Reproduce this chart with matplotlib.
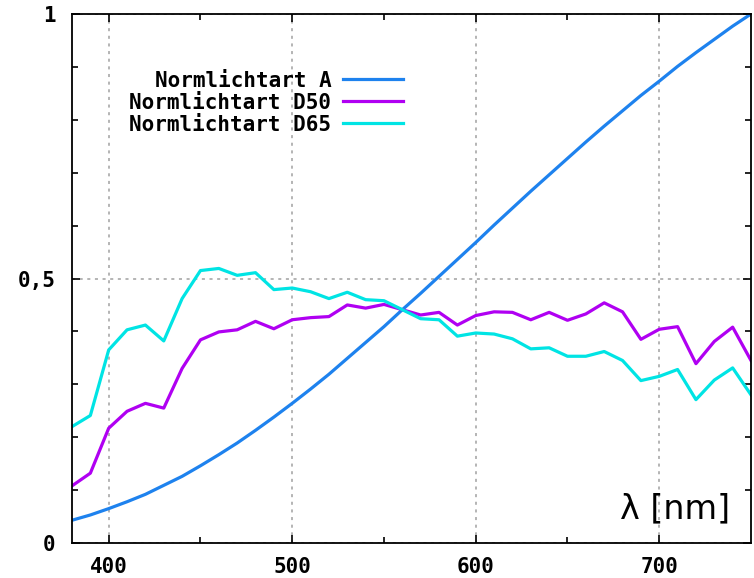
import numpy as np
import matplotlib
matplotlib.use("Agg")
import matplotlib.pyplot as plt
from matplotlib.ticker import MultipleLocator, FixedLocator

# wavelengths in nm, 10 nm steps
wavelength = np.arange(380, 751, 10)

# relative spectral power, scaled so that illuminant A is 1 at 750 nm
norm_a = [0.043, 0.053, 0.065, 0.078, 0.092, 0.109, 0.126, 0.146, 0.167, 0.189,
          0.213, 0.238, 0.264, 0.291, 0.319, 0.349, 0.379, 0.409, 0.441, 0.472,
          0.504, 0.536, 0.568, 0.601, 0.633, 0.665, 0.696, 0.727, 0.758, 0.788,
          0.817, 0.846, 0.873, 0.901, 0.927, 0.952, 0.977, 1.000]
norm_d50 = [0.108, 0.132, 0.217, 0.249, 0.264, 0.255, 0.330, 0.384, 0.399, 0.403,
            0.419, 0.405, 0.422, 0.426, 0.428, 0.450, 0.444, 0.451, 0.441, 0.431,
            0.436, 0.412, 0.430, 0.437, 0.436, 0.422, 0.436, 0.421, 0.433, 0.454,
            0.437, 0.385, 0.404, 0.409, 0.339, 0.381, 0.408, 0.345]
norm_d65 = [0.220, 0.241, 0.365, 0.403, 0.412, 0.382, 0.462, 0.515, 0.519, 0.506,
            0.511, 0.479, 0.482, 0.475, 0.462, 0.474, 0.460, 0.458, 0.441, 0.424,
            0.422, 0.391, 0.397, 0.395, 0.386, 0.367, 0.369, 0.353, 0.353, 0.362,
            0.345, 0.307, 0.315, 0.328, 0.271, 0.308, 0.331, 0.280]

labels = ["Normlichtart A", "Normlichtart D50", "Normlichtart D65"]
colors = ["#1e82ee", "#b000f2", "#00e4e4"]

fig = plt.figure(figsize=(7.54, 5.78), dpi=100)
ax = fig.add_axes([72 / 754, 35 / 578, 679 / 754, 529 / 578])

for y, lab, c in zip([norm_a, norm_d50, norm_d65], labels, colors):
    ax.plot(wavelength, y, color=c, lw=2.3, label=lab, solid_joinstyle="round")

ax.set_xlim(380, 750)
ax.set_ylim(0, 1)

mono = {"family": "DejaVu Sans Mono", "weight": "bold", "size": 15}

ax.xaxis.set_major_locator(FixedLocator([400, 500, 600, 700]))
ax.xaxis.set_minor_locator(FixedLocator([450, 550, 650]))
ax.yaxis.set_major_locator(FixedLocator([0, 0.5, 1]))
ax.yaxis.set_minor_locator(MultipleLocator(0.1))
ax.set_xticklabels(["400", "500", "600", "700"], fontdict=mono)
ax.set_yticklabels(["0", "0,5", "1"], fontdict=mono)

ax.tick_params(which="both", direction="in", top=True, right=True, width=1.2, colors="black")
ax.tick_params(which="major", length=6)
ax.tick_params(which="minor", length=4)
ax.tick_params(axis="x", pad=10)
ax.tick_params(axis="y", pad=12)

ax.grid(True, which="major", color="#a0a0a0", linestyle=(0, (2, 3)), linewidth=1.1)
for s in ax.spines.values():
    s.set_linewidth(1.3)

leg = ax.legend(loc="upper right", bbox_to_anchor=(0.488, 0.893), frameon=False,
                markerfirst=False, prop=mono, handlelength=2.9, handletextpad=0.55,
                labelspacing=0.1, borderpad=0, borderaxespad=0)

ax.text(0.969, 0.047, "λ [nm]", transform=ax.transAxes, ha="right", va="baseline",
        fontsize=24, family="DejaVu Sans")

fig.savefig("out.png", dpi=100)
